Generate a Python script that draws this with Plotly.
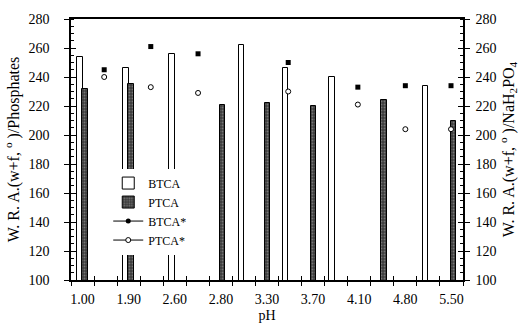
import plotly.graph_objects as go

# ---- data (x positions are in "half-slot" units of the pH axis) ----
ph_labels = ["1.00", "1.90", "2.60", "2.80", "3.30", "3.70", "4.10", "4.80", "5.50"]
label_pos = [0.5, 2.5, 4.5, 6.5, 8.5, 10.5, 12.5, 14.5, 16.5]

btca_pos = [0.39, 2.38, 4.39, 7.39, 9.31, 11.32, 15.37]
btca_val = [254, 246, 256, 262, 246, 240, 234]

ptca_pos = [0.61, 2.60, 6.58, 8.52, 10.52, 13.57, 16.59]
ptca_val = [232, 235, 221, 222, 220, 224, 210]

star_pos = [1.44, 3.46, 5.51, 9.42, 12.44, 14.50, 16.48]
btca_star = [245, 261, 256, 250, 233, 234, 234]
ptca_star = [240, 233, 229, 230, 221, 204, 204]

FONT = "Liberation Serif"
X_RANGE = [0, 17]
Y_RANGE = [100, 280]

fig = go.Figure()
fig.add_trace(go.Bar(
    x=btca_pos, y=btca_val, width=0.24, name="BTCA",
    marker=dict(color="white", line=dict(color="black", width=1))))
fig.add_trace(go.Bar(
    x=ptca_pos, y=ptca_val, width=0.24, name="PTCA",
    marker=dict(color="#3c3c3c",
                pattern=dict(shape=".", fgcolor="#b0b0b0", size=3, solidity=0.3),
                line=dict(color="black", width=1))))
fig.add_trace(go.Scatter(
    x=star_pos, y=btca_star, mode="markers", showlegend=False, name="BTCA*",
    marker=dict(symbol="square", size=5, color="black")))
fig.add_trace(go.Scatter(
    x=star_pos, y=ptca_star, mode="markers", showlegend=False, name="PTCA*",
    marker=dict(symbol="circle", size=5, color="white", line=dict(color="black", width=1))))
# legend entries (line + marker style as in the original legend)
fig.add_trace(go.Scatter(
    x=[None], y=[None], mode="lines+markers", name="BTCA*",
    line=dict(color="black", width=1),
    marker=dict(symbol="circle", size=5, color="black")))
fig.add_trace(go.Scatter(
    x=[None], y=[None], mode="lines+markers", name="PTCA*",
    line=dict(color="black", width=1),
    marker=dict(symbol="circle", size=5, color="white", line=dict(color="black", width=1))))

# helper traces so that overlay axes are drawn
for xa, ya in [("x2", "y"), ("x3", "y"), ("x", "y2"), ("x", "y3"), ("x", "y4")]:
    fig.add_trace(go.Scatter(x=[None], y=[None], xaxis=xa, yaxis=ya,
                             showlegend=False, hoverinfo="skip"))

tickfont = dict(family=FONT, size=14, color="black")
ytitle_left = "W. R. A.(w+f, <sup>o</sup> )/Phosphates"
ytitle_right = "W. R. A.(w+f, <sup>o</sup> )/NaH<sub>2</sub>PO<sub>4</sub>"

base_x = dict(range=X_RANGE, autorange=False, showgrid=False, zeroline=False, fixedrange=True)
base_y = dict(range=Y_RANGE, autorange=False, showgrid=False, zeroline=False, fixedrange=True)

fig.update_layout(
    width=527, height=333,
    margin=dict(l=70, r=64, t=14, b=53),
    paper_bgcolor="white", plot_bgcolor="white",
    barmode="overlay", bargap=0,
    hovermode=False,
    font=dict(family=FONT, size=14, color="black"),
    showlegend=True,
    legend=dict(x=0.095, y=0.427, xanchor="left", yanchor="top",
                bgcolor="white", borderwidth=0,
                font=dict(family=FONT, size=12, color="black"),
                itemwidth=30, tracegroupgap=0),
    xaxis=dict(**base_x, tickmode="array", tickvals=list(range(18)),
               ticks="outside", ticklen=4, tickwidth=1, tickcolor="black",
               showticklabels=False, showline=True, linecolor="black",
               linewidth=1.5, mirror=True),
    xaxis2=dict(**base_x, overlaying="x", anchor="y", side="bottom",
                tickmode="array", tickvals=list(range(18)),
                ticks="inside", ticklen=4, tickwidth=1, tickcolor="black",
                showticklabels=False, showline=False),
    xaxis3=dict(**base_x, overlaying="x", anchor="y", side="bottom",
                tickmode="array", tickvals=label_pos, ticktext=ph_labels,
                ticks="", showline=False, tickfont=tickfont,
                ticklabelstandoff=9,
                title=dict(text="pH", font=tickfont, standoff=4)),
    yaxis=dict(**base_y, tickmode="linear", tick0=100, dtick=20,
               ticks="outside", ticklen=5, tickwidth=1, tickcolor="black",
               minor=dict(dtick=5, ticks="inside", ticklen=3, tickwidth=1,
                          tickcolor="black", showgrid=False),
               showline=True, linecolor="black", linewidth=1.5,
               tickfont=tickfont, ticklabelstandoff=12,
               title=dict(text=ytitle_left, font=dict(family=FONT, size=16, color="black"),
                          standoff=5)),
    yaxis2=dict(**base_y, overlaying="y", anchor="x", side="right",
                tickmode="linear", tick0=100, dtick=20,
                ticks="outside", ticklen=5, tickwidth=1, tickcolor="black",
                minor=dict(dtick=5, ticks="inside", ticklen=3, tickwidth=1,
                           tickcolor="black", showgrid=False),
                showline=True, linecolor="black", linewidth=1.5,
                tickfont=tickfont, ticklabelstandoff=3,
                title=dict(text=ytitle_right, font=dict(family=FONT, size=16, color="black"),
                           standoff=7)),
    yaxis3=dict(**base_y, overlaying="y", anchor="x", side="left",
                tickmode="linear", tick0=100, dtick=20,
                ticks="inside", ticklen=5, tickwidth=1, tickcolor="black",
                showticklabels=False, showline=False),
    yaxis4=dict(**base_y, overlaying="y", anchor="x", side="right",
                tickmode="linear", tick0=100, dtick=20,
                ticks="inside", ticklen=5, tickwidth=1, tickcolor="black",
                showticklabels=False, showline=False),
)

fig.write_html("out.html")
